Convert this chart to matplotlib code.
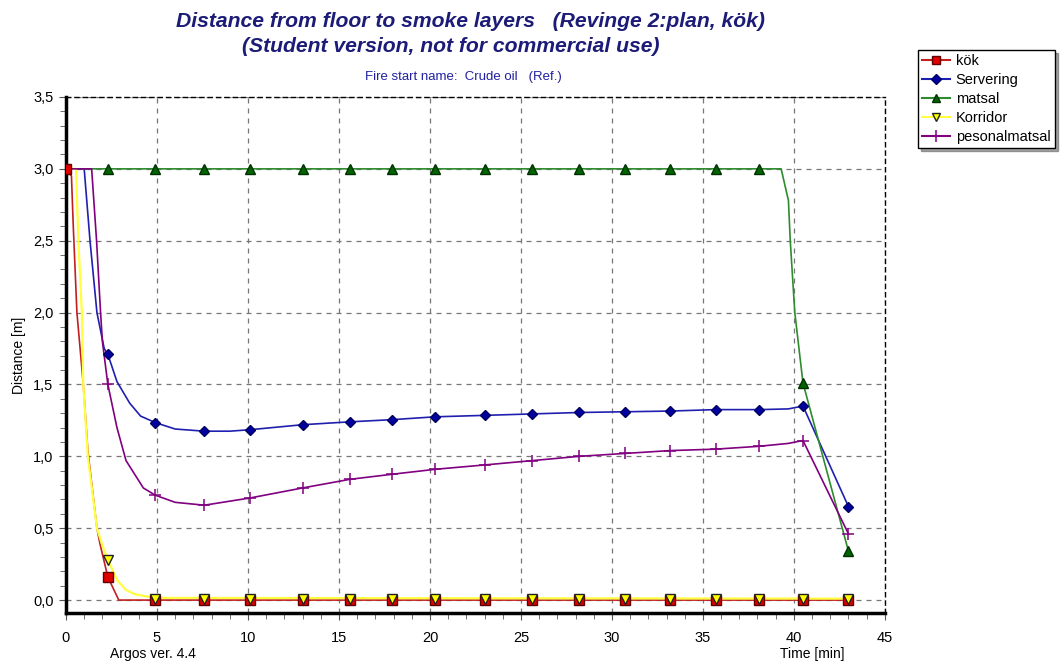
import numpy as np
from matplotlib import pyplot as plt
from matplotlib.ticker import MultipleLocator, FuncFormatter

plt.rcParams['font.family'] = ['Liberation Sans', 'DejaVu Sans']

# times where the program put a marker [min]
mark_t = [2.3, 4.9, 7.6, 10.1, 13.0, 15.6, 17.9, 20.3, 23.0, 25.6, 28.2,
          30.7, 33.2, 35.7, 38.1, 40.5, 43.0]

# kök
kok_t = [0, 0.3, 0.4, 0.6, 0.95, 1.2, 1.7, 1.87, 2.3, 2.9, 43.0]
kok_y = [3.0, 2.95, 2.6, 2.0, 1.5, 1.04, 0.5, 0.39, 0.16, 0.0, 0.0]
kok_mt = [0] + mark_t
kok_my = [3.0, 0.16] + [0.0] * 16

# Servering
serv_t = [0, 1.0, 1.32, 1.7, 2.1, 2.3, 2.8, 3.5, 4.1, 4.9, 6.0, 7.6, 9.0,
          10.1, 13.0, 15.6, 17.9, 20.3, 23.0, 25.6, 28.2, 30.7, 33.2, 35.7,
          38.1, 39.7, 40.5, 43.0]
serv_y = [3.0, 3.0, 2.5, 2.0, 1.75, 1.71, 1.52, 1.37, 1.28, 1.235, 1.19,
          1.175, 1.175, 1.185, 1.22, 1.24, 1.255, 1.275, 1.285, 1.295, 1.305,
          1.31, 1.315, 1.325, 1.325, 1.33, 1.35, 0.65]
serv_my = [1.71, 1.235, 1.175, 1.185, 1.22, 1.24, 1.255, 1.275, 1.285, 1.295,
           1.305, 1.31, 1.315, 1.325, 1.325, 1.35, 0.65]

# matsal
mat_t = [0, 39.3, 39.7, 39.8, 40.05, 40.5, 43.0]
mat_y = [3.0, 3.0, 2.78, 2.5, 2.0, 1.51, 0.34]
mat_my = [3.0] * 15 + [1.51, 0.34]

# Korridor
kor_t = [0, 0.55, 0.68, 0.87, 0.95, 1.2, 1.7, 2.0, 2.3, 2.8, 3.3, 3.8, 4.9, 43.0]
kor_y = [3.0, 3.0, 2.5, 2.0, 1.5, 1.0, 0.5, 0.38, 0.28, 0.14, 0.07, 0.04,
         0.015, 0.01]
kor_my = [0.28] + [0.01] * 16

# pesonalmatsal
pers_t = [0, 1.41, 1.68, 1.9, 2.0, 2.3, 2.8, 3.3, 4.25, 4.9, 6.0, 7.6, 10.1,
          13.0, 15.6, 17.9, 20.3, 23.0, 25.6, 28.2, 30.7, 33.2, 35.7, 38.1,
          39.7, 40.5, 43.0]
pers_y = [3.0, 3.0, 2.5, 2.0, 1.8, 1.5, 1.2, 0.97, 0.78, 0.73, 0.68, 0.66,
          0.71, 0.78, 0.84, 0.875, 0.91, 0.94, 0.97, 1.0, 1.02, 1.04, 1.05,
          1.07, 1.09, 1.11, 0.46]
pers_my = [1.5, 0.73, 0.66, 0.71, 0.78, 0.84, 0.875, 0.91, 0.94, 0.97, 1.0,
           1.02, 1.04, 1.05, 1.07, 1.11, 0.46]

navy = '#1c1c78'

fig = plt.figure(figsize=(10.61, 6.62), dpi=100)
ax = fig.add_axes([0.0622, 0.074, 0.7718, 0.7795])

ax.plot(kok_t, kok_y, color='#c02020', lw=1.2, zorder=3)
ax.plot(kok_mt, kok_my, ls='none', marker='s', ms=6.5, mfc='#e00000',
        mec='#600000', zorder=4)
ax.plot(serv_t, serv_y, color='#2020b0', lw=1.2, zorder=3)
ax.plot(mark_t, serv_my, ls='none', marker='D', ms=5.5, mfc='#0000a0',
        mec='#000060', zorder=4)
ax.plot(mat_t, mat_y, color='#2e8b2e', lw=1.2, zorder=3)
ax.plot(mark_t, mat_my, ls='none', marker='^', ms=6.5, mfc='#006400',
        mec='#003000', zorder=4)
ax.plot(kor_t, kor_y, color='#ffff40', lw=1.6, zorder=3)
ax.plot(mark_t, kor_my, ls='none', marker='v', ms=6.5, mfc='#ffff00',
        mec='#202020', zorder=5)
ax.plot(pers_t, pers_y, color='#800080', lw=1.2, zorder=3)
ax.plot(mark_t, pers_my, ls='none', marker='+', ms=9, mew=1.1,
        color='#800080', zorder=4)

# legend proxies
h_kok, = ax.plot([], [], color='#c02020', marker='s', ms=6, mfc='#e00000', mec='#600000')
h_serv, = ax.plot([], [], color='#2020b0', marker='D', ms=5, mfc='#0000a0', mec='#000060')
h_mat, = ax.plot([], [], color='#2e8b2e', marker='^', ms=6, mfc='#006400', mec='#003000')
h_kor, = ax.plot([], [], color='#ffff40', marker='v', ms=6, mfc='#ffff00', mec='#202020')
h_pers, = ax.plot([], [], color='#800080', marker='+', ms=9, mew=1.1)
leg = fig.legend([h_kok, h_serv, h_mat, h_kor, h_pers],
                 ['kök', 'Servering', 'matsal', 'Korridor', 'pesonalmatsal'],
                 loc='upper left', bbox_to_anchor=(0.865, 0.9245),
                 fontsize=10.5, fancybox=False, shadow=True, framealpha=1,
                 edgecolor='black', borderaxespad=0, labelspacing=0.33,
                 handlelength=1.9, handletextpad=0.4, borderpad=0.3)
leg.get_frame().set_linewidth(1.0)

ax.set_xlim(0, 45)
ax.set_ylim(-0.09, 3.5)
ax.xaxis.set_major_locator(MultipleLocator(5))
ax.xaxis.set_minor_locator(MultipleLocator(1))
ax.yaxis.set_major_locator(MultipleLocator(0.5))
ax.yaxis.set_minor_locator(MultipleLocator(0.1))
ax.yaxis.set_major_formatter(FuncFormatter(lambda v, p: f'{v:.1f}'.replace('.', ',')))
ax.tick_params(which='both', direction='out', labelsize=10.5, color='#555555')
ax.tick_params(which='major', length=5, pad=4)
ax.tick_params(which='minor', length=4)
ax.tick_params(axis='x', pad=8)
ax.grid(True, which='major', ls=(0, (4, 4)), color='#777777', lw=0.9)

for s in ['left', 'bottom']:
    ax.spines[s].set_linewidth(2.5)
for s in ['top', 'right']:
    ax.spines[s].set_linestyle((0, (3, 3)))
    ax.spines[s].set_linewidth(1.0)

ax.set_ylabel('Distance [m]', fontsize=10, labelpad=5)

fig.text(0.443, 0.968, 'Distance from floor to smoke layers   (Revinge 2:plan, kök)',
         ha='center', va='center', fontsize=15.2, fontweight='bold',
         fontstyle='italic', color=navy)
fig.text(0.425, 0.930, '(Student version, not for commercial use)',
         ha='center', va='center', fontsize=15.2, fontweight='bold',
         fontstyle='italic', color=navy)
fig.text(0.437, 0.884, 'Fire start name:  Crude oil   (Ref.)', ha='center',
         va='center', fontsize=9.5, color='#2020a0')
fig.text(0.104, 0.012, 'Argos ver. 4.4', ha='left', va='center', fontsize=10)
fig.text(0.735, 0.012, 'Time [min]', ha='left', va='center', fontsize=10)

fig.savefig('out.png', dpi=100)
